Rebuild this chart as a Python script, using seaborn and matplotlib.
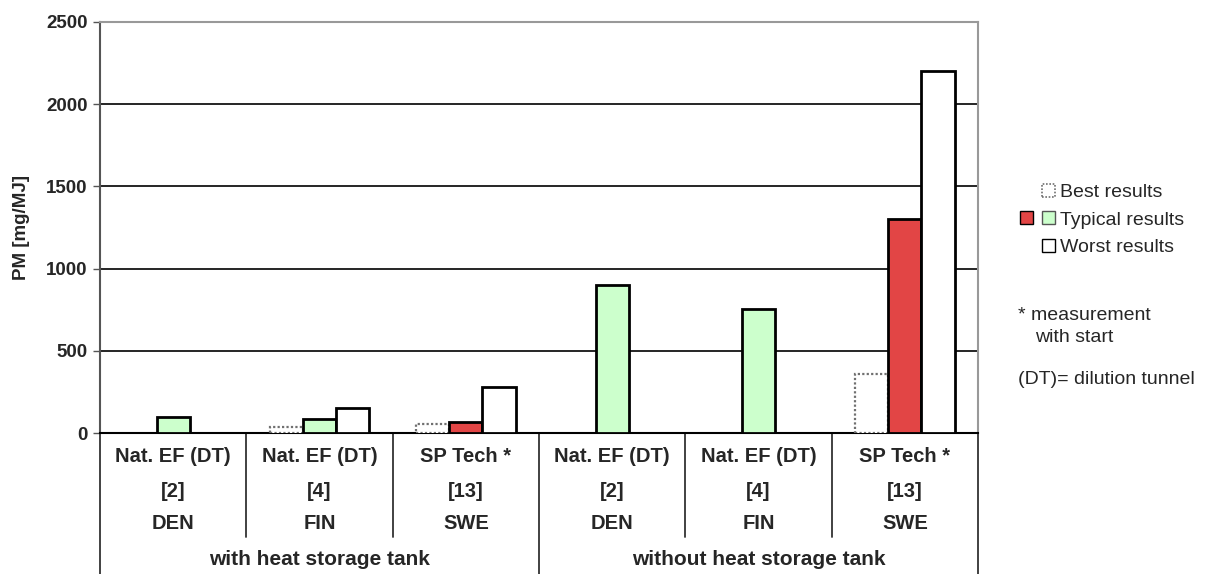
import numpy as np
import pandas as pd
import matplotlib
matplotlib.use('Agg')
import matplotlib.pyplot as plt
import seaborn as sns
from matplotlib.patches import Patch
from matplotlib.legend_handler import HandlerTuple

# data
sources = ['Nat. EF (DT)', 'Nat. EF (DT)', 'SP Tech *', 'Nat. EF (DT)', 'Nat. EF (DT)', 'SP Tech *']
refs = ['[2]', '[4]', '[13]', '[2]', '[4]', '[13]']
countries = ['DEN', 'FIN', 'SWE', 'DEN', 'FIN', 'SWE']
tank_labels = ['with heat storage tank', 'without heat storage tank']
series_names = ['Best results', 'Typical results', 'Worst results']
best = [np.nan, 38, 53, np.nan, np.nan, 357]
typical = [100, 83, 69, 900, 755, 1300]
worst = [np.nan, 152, 278, np.nan, np.nan, 2200]
yticks = [0, 500, 1000, 1500, 2000, 2500]

sns.set_style('white')
plt.rcParams['font.family'] = ['Liberation Sans', 'DejaVu Sans']

keys = [f'g{i}' for i in range(len(sources))]
df = pd.DataFrame({
    'group': keys * 3,
    'series': [s for s in series_names for _ in keys],
    'value': best + typical + worst,
})
missing = df['value'].isna().to_numpy()
df['value'] = df['value'].fillna(0)

fig = plt.figure(figsize=(12.12, 5.74), dpi=100)
ax = fig.add_axes([100 / 1212, 1 - 433 / 574, 878 / 1212, 411 / 574])

sns.barplot(data=df, x='group', y='value', hue='series', order=keys,
            hue_order=series_names, width=0.68, saturation=1, legend=False, ax=ax)

green = '#ccffcc'
red = '#e24545'
for si, cont in enumerate(ax.containers):
    for bar in cont:
        gi = int(round(bar.get_x() + bar.get_width() / 2))
        if missing[si * len(keys) + gi]:
            bar.set_visible(False)
            continue
        if si == 0:
            bar.set_facecolor('white')
            bar.set_edgecolor('#707070')
            bar.set_linestyle((0, (1, 1)))
            bar.set_linewidth(1.6)
        elif si == 1:
            bar.set_facecolor(red if sources[gi].startswith('SP') else green)
            bar.set_edgecolor('black')
            bar.set_linewidth(2)
        else:
            bar.set_facecolor('white')
            bar.set_edgecolor('black')
            bar.set_linewidth(2)
        bar.set_zorder(3)

ax.set_xlim(-0.5, len(keys) - 0.5)
ax.set_ylim(0, 2500)
ax.set_yticks(yticks)
ax.set_yticklabels([str(v) for v in yticks], fontsize=13.5, fontweight='bold')
ax.set_xticks([])
ax.set_xlabel('')
ax.set_ylabel('PM [mg/MJ]', fontsize=13.5, fontweight='bold')
ax.yaxis.set_label_coords(-70 / 878, 0.5)
ax.tick_params(axis='y', length=5, width=1, color='#555555', direction='out', left=True, pad=4)
ax.grid(axis='y', color='black', linewidth=1.2)
ax.set_axisbelow(True)
for side in ['top', 'right']:
    ax.spines[side].set_color('#999999')
    ax.spines[side].set_linewidth(1.5)
ax.spines['left'].set_color('#555555')
ax.spines['left'].set_linewidth(1.5)
ax.spines['bottom'].set_color('black')
ax.spines['bottom'].set_linewidth(1.5)

# category table under the axis
tr = ax.get_xaxis_transform()
for i in range(len(keys) + 1):
    x = i - 0.5
    low = -0.343 if i % 3 == 0 else -0.253
    ax.plot([x, x], [0, low], color='#333333', lw=1.3, transform=tr, clip_on=False)
for i in range(len(keys)):
    for y, txt in zip([-0.056, -0.1435, -0.2214], [sources[i], refs[i], countries[i]]):
        ax.text(i, y, txt, transform=tr, ha='center', va='center',
                fontsize=14.5, fontweight='bold')
for j, txt in enumerate(tank_labels):
    ax.text(3 * j + 1, -0.3066, txt, transform=tr, ha='center', va='center',
            fontsize=15, fontweight='bold')

# legend: typical row shows both red and green swatches
blank = Patch(facecolor='none', edgecolor='none')
h_best = Patch(facecolor='white', edgecolor='#707070', linestyle=(0, (1, 1)), linewidth=1.2)
h_red = Patch(facecolor=red, edgecolor='black', linewidth=1)
h_green = Patch(facecolor=green, edgecolor='#555555', linewidth=1)
h_worst = Patch(facecolor='white', edgecolor='black', linewidth=1)
fig.legend(handles=[(blank, h_best), (h_red, h_green), (blank, h_worst)],
           labels=series_names,
           handler_map={tuple: HandlerTuple(ndivide=None, pad=0.45)},
           loc='upper left', bbox_to_anchor=(1020 / 1212, 1 - 184 / 574),
           frameon=False, fontsize=14, handlelength=1.8, handleheight=0.65,
           handletextpad=0.25, labelspacing=0.52, borderpad=0, borderaxespad=0)

fig.text(1018 / 1212, 1 - 315 / 574, '* measurement', fontsize=14, va='center')
fig.text(1035 / 1212, 1 - 337 / 574, 'with start', fontsize=14, va='center')
fig.text(1018 / 1212, 1 - 379 / 574, '(DT)= dilution tunnel', fontsize=14, va='center')

fig.savefig('out.png', dpi=100)
